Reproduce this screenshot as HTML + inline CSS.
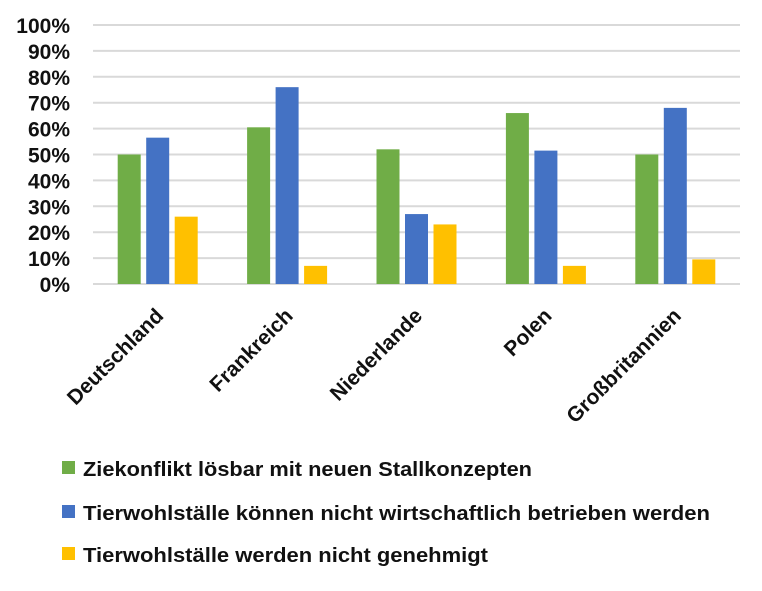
<!DOCTYPE html>
<html><head><meta charset="utf-8"><style>
body{margin:0;background:#fff;}
svg text{font-family:"Liberation Sans",sans-serif;font-weight:bold;fill:#111;}
</style></head><body>
<svg id="chart" width="762" height="586" viewBox="0 0 762 586" xmlns="http://www.w3.org/2000/svg">
<g id="grid"></g><g id="bars"></g><g id="labels"></g>
<g id="legend">
<rect x="62" y="461" width="13" height="13" fill="#70AD47"/>
<text x="83" y="476" font-size="20" textLength="449" lengthAdjust="spacingAndGlyphs">Ziekonflikt lösbar mit neuen Stallkonzepten</text>
<rect x="62" y="505" width="13" height="13" fill="#4472C4"/>
<text x="83" y="520" font-size="20" textLength="627" lengthAdjust="spacingAndGlyphs">Tierwohlställe können nicht wirtschaftlich betrieben werden</text>
<rect x="62" y="547" width="13" height="13" fill="#FFC000"/>
<text x="83" y="562" font-size="20" textLength="405" lengthAdjust="spacingAndGlyphs">Tierwohlställe werden nicht genehmigt</text>
</g>
</svg>
<script>
const categories=["Deutschland","Frankreich","Niederlande","Polen","Großbritannien"];
const seriesGreen=[50,60.5,52,66,50];
const seriesBlue=[56.5,76,27,51.5,68];
const seriesYellow=[26,7,23,7,9.5];
const yTicks=[0,10,20,30,40,50,60,70,80,90,100];
const NS="http://www.w3.org/2000/svg";
const x0=93,x1=740,y0=284,yTop=25;
const y=v=>y0-(v/100)*(y0-yTop);
const bandW=(x1-x0)/categories.length;
const xc=i=>x0+bandW*(i+0.5);
function mk(t,a,p){const e=document.createElementNS(NS,t);for(const k in a)e.setAttribute(k,a[k]);p.appendChild(e);return e;}
const grid=document.getElementById('grid'),bars=document.getElementById('bars'),labels=document.getElementById('labels');
yTicks.forEach(v=>{
 const l=mk('line',{x1:x0,x2:x1,y1:y(v),y2:y(v),stroke:'#d9d9d9','stroke-width':2},grid);
 
 
 const t=mk('text',{x:70,y:y(v)+8,'text-anchor':'end','font-size':21},grid);
 t.textContent=v+'%';
 
 
});
const series=[[seriesGreen,'#70AD47','green'],[seriesBlue,'#4472C4','blue'],[seriesYellow,'#FFC000','yellow']];
const bw=23,step=28.5;
categories.forEach((c,i)=>{
 series.forEach(([vals,col,nm],s)=>{
  const bx=xc(i)-40+s*step;
  const r=mk('rect',{x:bx,y:y(vals[i]),width:bw,height:y0-y(vals[i]),fill:col},bars);
  
  
 });
 const cx=xc(i)+7,cy=317;
 const t=mk('text',{x:cx,y:cy,'text-anchor':'end','font-size':21,transform:`rotate(-45 ${cx} ${cy})`},labels);
 t.textContent=c;
 
 
});
</script>
</body></html>
